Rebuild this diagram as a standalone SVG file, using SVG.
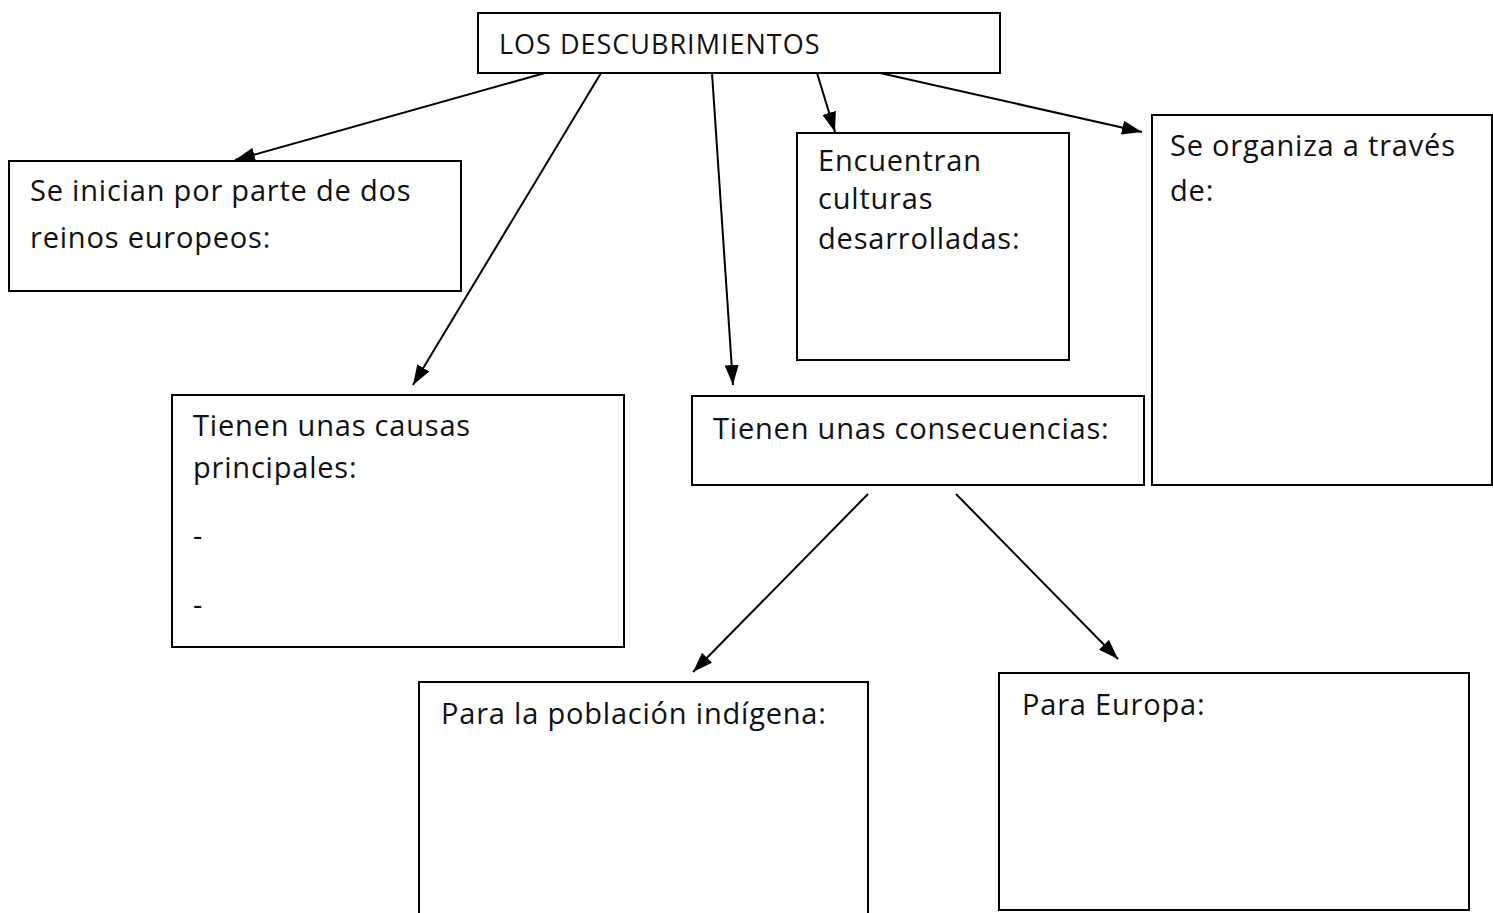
<svg xmlns="http://www.w3.org/2000/svg" width="1493" height="913" viewBox="0 0 1493 913">
<style>
.box{fill:#fff;stroke:#000;stroke-width:2}
.t{font-family:"Open Sans","Lato",sans-serif;font-size:29px;letter-spacing:0.8px;fill:#111}
.h{font-family:"Open Sans","Lato",sans-serif;font-size:27px;letter-spacing:1px;fill:#111}
.c line{stroke:#000;stroke-width:2}
</style>
<defs>
<marker id="ah" markerUnits="userSpaceOnUse" markerWidth="20" markerHeight="14" refX="20" refY="7" orient="auto">
<path d="M0,0 L20,7 L0,14 z" fill="#000"/>
</marker>
</defs>
<rect width="1493" height="913" fill="#fff"/>
<g id="connectors" class="c">
<line x1="545" y1="73" x2="235" y2="160" marker-end="url(#ah)"/>
<line x1="601" y1="73" x2="413" y2="385" marker-end="url(#ah)"/>
<line x1="712" y1="73" x2="733" y2="385" marker-end="url(#ah)"/>
<line x1="817" y1="73" x2="835" y2="132" marker-end="url(#ah)"/>
<line x1="880" y1="73" x2="1142" y2="132" marker-end="url(#ah)"/>
<line x1="868" y1="494" x2="693" y2="672" marker-end="url(#ah)"/>
<line x1="956" y1="494" x2="1118" y2="659" marker-end="url(#ah)"/>
</g>
<g id="n-title">
<rect class="box" x="478" y="13" width="522" height="60"/>
<text class="h" x="499" y="54">LOS DESCUBRIMIENTOS</text>
</g>
<g id="n-reinos">
<rect class="box" x="9" y="161" width="452" height="130"/>
<text class="t" x="30" y="201">Se inician por parte de dos</text>
<text class="t" x="30" y="248">reinos europeos:</text>
</g>
<g id="n-causas">
<rect class="box" x="172" y="395" width="452" height="252"/>
<text class="t" x="193" y="436">Tienen unas causas</text>
<text class="t" x="193" y="478">principales:</text>
<text class="t" x="193" y="546">-</text>
<text class="t" x="193" y="615">-</text>
</g>
<g id="n-culturas">
<rect class="box" x="797" y="133" width="272" height="227"/>
<text class="t" x="818" y="171">Encuentran</text>
<text class="t" x="818" y="209">culturas</text>
<text class="t" x="818" y="249">desarrolladas:</text>
</g>
<g id="n-organiza">
<rect class="box" x="1152" y="115" width="340" height="370"/>
<text class="t" x="1170" y="156">Se organiza a través</text>
<text class="t" x="1170" y="201">de:</text>
</g>
<g id="n-consecuencias">
<rect class="box" x="692" y="396" width="452" height="89"/>
<text class="t" x="713" y="439">Tienen unas consecuencias:</text>
</g>
<g id="n-indigena">
<rect class="box" x="419" y="682" width="449" height="240"/>
<text class="t" x="441" y="724">Para la población indígena:</text>
</g>
<g id="n-europa">
<rect class="box" x="999" y="673" width="470" height="237"/>
<text class="t" x="1022" y="715">Para Europa:</text>
</g>
</svg>
